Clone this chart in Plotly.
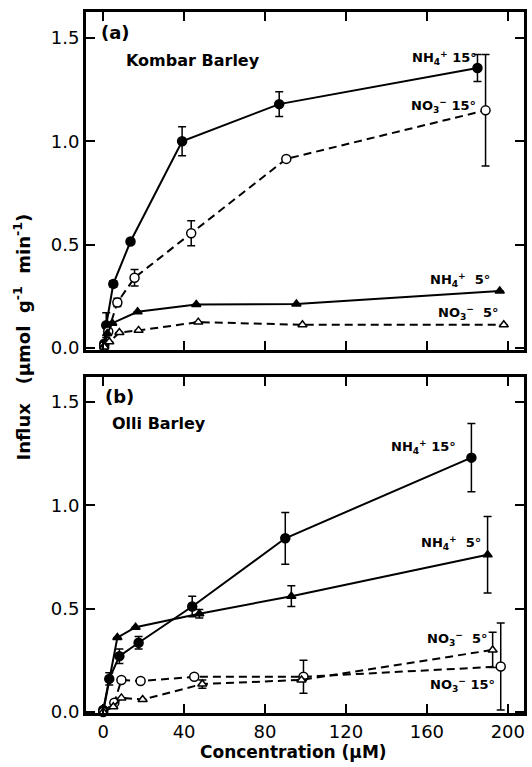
import plotly.graph_objects as go

# ---------------- data ----------------
# Panel (a) Kombar Barley
a_nh4_15_x = [0.5, 1.5, 5, 13.5, 39, 87, 185]
a_nh4_15_y = [0.02, 0.11, 0.31, 0.515, 1.0, 1.18, 1.355]
a_nh4_15_e = [0, 0.06, 0.015, 0, 0.07, 0.06, 0.065]

a_no3_15_x = [0.5, 2.5, 7, 15.5, 43.5, 90.5, 189]
a_no3_15_y = [0.01, 0.08, 0.22, 0.34, 0.555, 0.915, 1.15]
a_no3_15_e = [0, 0, 0.02, 0.04, 0.06, 0.01, 0.27]

a_nh4_5_x = [0.5, 2, 4.5, 17, 46, 95.5, 196]
a_nh4_5_y = [0.01, 0.07, 0.12, 0.175, 0.21, 0.213, 0.276]
a_nh4_5_e = [0, 0, 0, 0, 0, 0, 0]

a_no3_5_x = [0.5, 3, 8, 17.5, 47, 98.5, 198]
a_no3_5_y = [0.005, 0.03, 0.075, 0.085, 0.125, 0.112, 0.112]
a_no3_5_e = [0, 0, 0, 0, 0, 0, 0]

# Panel (b) Olli Barley
b_nh4_15_x = [0, 3, 8, 17.5, 44, 90, 182]
b_nh4_15_y = [0.01, 0.16, 0.27, 0.335, 0.51, 0.84, 1.23]
b_nh4_15_e = [0, 0.03, 0.035, 0.03, 0.05, 0.125, 0.165]

b_nh4_5_x = [0, 7, 16, 47.5, 93, 190]
b_nh4_5_y = [0.0, 0.36, 0.41, 0.475, 0.56, 0.76]
b_nh4_5_e = [0, 0, 0, 0.02, 0.05, 0.185]

b_no3_15_x = [0, 5.5, 9, 18.5, 45, 99, 196.5]
b_no3_15_y = [0.0, 0.045, 0.155, 0.15, 0.17, 0.17, 0.22]
b_no3_15_e = [0, 0, 0, 0, 0, 0.08, 0.21]

b_no3_5_x = [0, 5, 9, 19.5, 49, 98, 192.5]
b_no3_5_y = [0.0, 0.025, 0.068, 0.06, 0.135, 0.155, 0.30]
b_no3_5_e = [0, 0, 0, 0, 0.02, 0, 0.085]

x_ticks = [0, 40, 80, 120, 160, 200]
y_ticks = [0.0, 0.5, 1.0, 1.5]

# ---------------- figure ----------------
W, H = 532, 767
ML, MR, MT, MB = 86, 5, 12, 54
PW, PH = W - ML - MR, H - MT - MB

def px_x(px):
    return (px - ML) / PW

def px_y(py):
    return (H - MB - py) / PH

FONT = "DejaVu Sans"
fig = go.Figure()

def add(x, y, e, symbol, filled, dash, xa, ya, size):
    fig.add_trace(go.Scatter(
        x=x, y=y, xaxis=xa, yaxis=ya, mode="lines+markers",
        line=dict(color="black", width=2, dash=dash),
        marker=dict(symbol=symbol, size=size,
                    color="black" if filled else "white",
                    line=dict(color="black", width=1.5)),
        error_y=dict(type="data", array=e, visible=True, color="black",
                     thickness=1.5, width=4),
        showlegend=False, cliponaxis=False))

DASH = "8px,5px"
add(a_nh4_15_x, a_nh4_15_y, a_nh4_15_e, "circle", True, "solid", "x", "y", 9)
add(a_no3_15_x, a_no3_15_y, a_no3_15_e, "circle", False, DASH, "x", "y", 9)
add(a_nh4_5_x, a_nh4_5_y, a_nh4_5_e, "triangle-up", True, "solid", "x", "y", 8)
add(a_no3_5_x, a_no3_5_y, a_no3_5_e, "triangle-up", False, DASH, "x", "y", 8)

add(b_nh4_15_x, b_nh4_15_y, b_nh4_15_e, "circle", True, "solid", "x2", "y2", 9)
add(b_nh4_5_x, b_nh4_5_y, b_nh4_5_e, "triangle-up", True, "solid", "x2", "y2", 8)
add(b_no3_15_x, b_no3_15_y, b_no3_15_e, "circle", False, DASH, "x2", "y2", 9)
add(b_no3_5_x, b_no3_5_y, b_no3_5_e, "triangle-up", False, DASH, "x2", "y2", 8)

xrange = [-8.5, 208]
common_x = dict(range=xrange, tickvals=x_ticks, ticks="inside", ticklen=9,
                tickwidth=2, tickcolor="black", showline=True, linewidth=3,
                linecolor="black", mirror="ticks", showgrid=False,
                zeroline=False, tickfont=dict(family=FONT, size=18, color="black"))
common_y = dict(tickvals=y_ticks, tickformat=".1f", ticks="inside", ticklen=9,
                tickwidth=2, tickcolor="black", showline=True, linewidth=3,
                linecolor="black", mirror="ticks", showgrid=False,
                zeroline=False, tickfont=dict(family=FONT, size=18, color="black"))

fig.update_layout(
    width=W, height=H, margin=dict(l=ML, r=MR, t=MT, b=MB),
    paper_bgcolor="white", plot_bgcolor="white",
    xaxis=dict(common_x, anchor="y", domain=[0, 1], showticklabels=False),
    yaxis=dict(common_y, anchor="x", domain=[px_y(350), 1], range=[-0.01, 1.626]),
    xaxis2=dict(common_x, anchor="y2", domain=[0, 1]),
    yaxis2=dict(common_y, anchor="x2", domain=[0, px_y(377)], range=[-0.005, 1.62]),
)

def ion(base, sub, sign):
    return f"<b>{base}<sub>{sub}</sub><sup>{sign}</sup></b>"

labels = [
    ("<b>(a)</b>", 116, 32, 18),
    ("<b>Kombar Barley</b>", 194, 61, 16),
    (ion("NH", "4", "+") + "<b> 15°</b>", 447, 58, 13),
    (ion("NO", "3", "−") + "<b> 15°</b>", 446, 106, 13),
    (ion("NH", "4", "+") + "<b>  5°</b>", 463, 280, 13),
    (ion("NO", "3", "−") + "<b>  5°</b>", 471, 313, 13),
    ("<b>(b)</b>", 120, 396, 18),
    ("<b>Olli Barley</b>", 160, 423, 16),
    (ion("NH", "4", "+") + "<b> 15°</b>", 426, 447, 13),
    (ion("NH", "4", "+") + "<b>  5°</b>", 453, 543, 13),
    (ion("NO", "3", "−") + "<b>  5°</b>", 460, 639, 13),
    (ion("NO", "3", "−") + "<b> 15°</b>", 465, 685, 13),
]
for txt, cx, cy, fs in labels:
    fig.add_annotation(text=txt, x=px_x(cx), y=px_y(cy), xref="paper", yref="paper",
                       showarrow=False, xanchor="center", yanchor="middle",
                       font=dict(family=FONT, size=fs, color="black"))

fig.add_annotation(text="<b>Influx   (μmol  g<sup>-1</sup>  min<sup>-1</sup>)</b>",
                   x=px_x(22), y=px_y(337), xref="paper", yref="paper",
                   showarrow=False, textangle=-90, xanchor="center", yanchor="middle",
                   font=dict(family=FONT, size=18, color="black"))
fig.add_annotation(text="<b>Concentration (μM)</b>",
                   x=px_x(295), y=px_y(752), xref="paper", yref="paper",
                   showarrow=False, xanchor="center", yanchor="middle",
                   font=dict(family=FONT, size=17, color="black"))

fig.write_html("out.html", config=dict(displayModeBar=False),
               post_script="document.body.style.margin='0';document.body.style.padding='0';")
